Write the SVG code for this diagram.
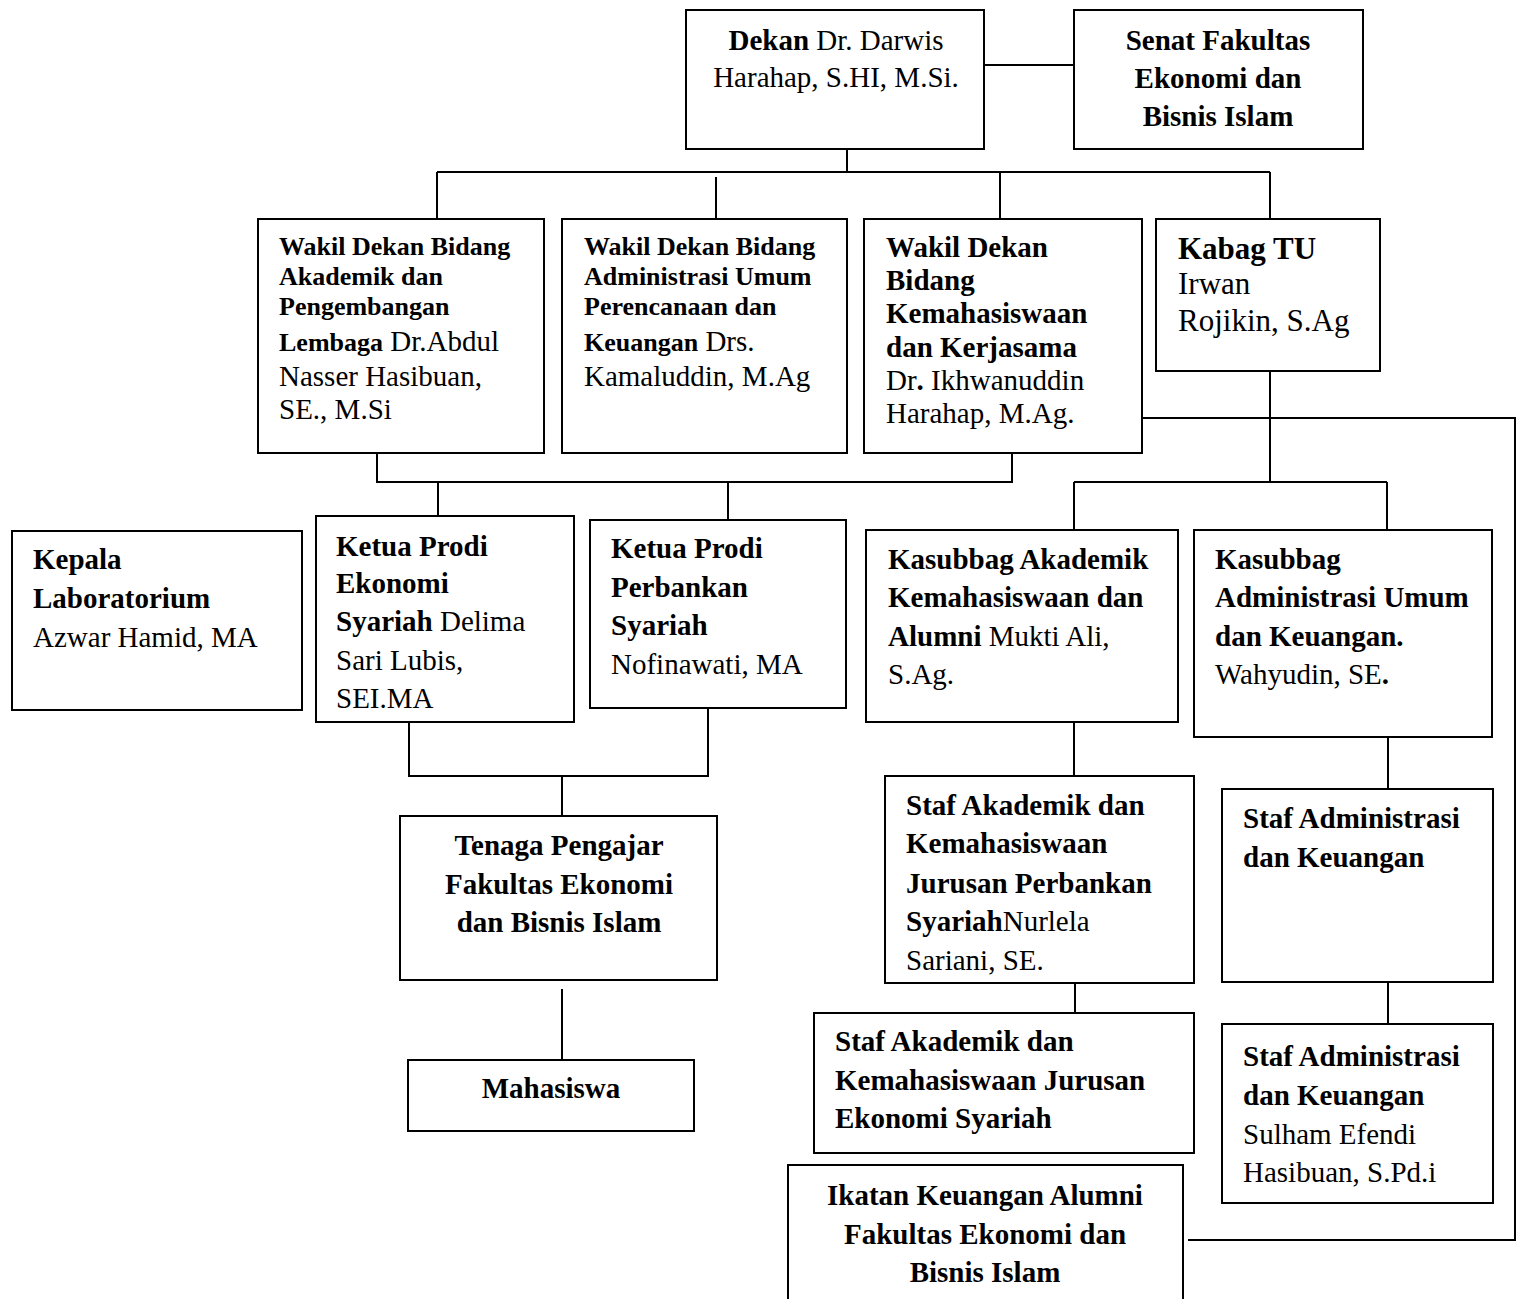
<svg xmlns="http://www.w3.org/2000/svg" width="1524" height="1299" viewBox="0 0 1524 1299">
<style>
rect.n{fill:#fff;stroke:#000;stroke-width:2}
#connectors line,#connectors polyline{stroke:#000;stroke-width:2;fill:none}
text{font-family:"Liberation Serif","Times New Roman",serif;font-size:29px;fill:#000}
.b{font-weight:bold}
.s{font-size:26px}
.c{text-anchor:middle}
.k{font-size:31px}
</style>
<rect width="1524" height="1299" fill="#fff"/>
<g id="connectors">
<line x1="984" y1="65" x2="1074" y2="65"/>
<line x1="847" y1="149" x2="847" y2="172"/>
<line x1="437" y1="172" x2="1270" y2="172"/>
<line x1="437" y1="172" x2="437" y2="219"/>
<line x1="716" y1="177" x2="716" y2="219"/>
<line x1="1000" y1="172" x2="1000" y2="219"/>
<line x1="1270" y1="172" x2="1270" y2="219"/>
<polyline points="377,453 377,482 1012,482 1012,453"/>
<line x1="438" y1="482" x2="438" y2="516"/>
<line x1="728" y1="482" x2="728" y2="520"/>
<polyline points="409,722 409,776 708,776 708,708"/>
<line x1="562" y1="776" x2="562" y2="816"/>
<line x1="562" y1="989" x2="562" y2="1060"/>
<line x1="1270" y1="371" x2="1270" y2="482"/>
<line x1="1074" y1="482" x2="1387" y2="482"/>
<line x1="1074" y1="482" x2="1074" y2="530"/>
<line x1="1387" y1="482" x2="1387" y2="530"/>
<polyline points="1142,418 1515,418 1515,1240 1188,1240"/>
<line x1="1074" y1="722" x2="1074" y2="776"/>
<line x1="1388" y1="737" x2="1388" y2="789"/>
<line x1="1075" y1="983" x2="1075" y2="1013"/>
<line x1="1388" y1="982" x2="1388" y2="1024"/>
</g>
<g id="dekan">
<rect class="n" x="686" y="10" width="298" height="139"/>
<text class="c" x="836" y="50"><tspan class="b">Dekan</tspan> Dr. Darwis</text>
<text class="c" x="836" y="87">Harahap, S.HI, M.Si.</text>
</g>
<g id="senat">
<rect class="n" x="1074" y="10" width="289" height="139"/>
<text class="c b" x="1218" y="50">Senat Fakultas</text>
<text class="c b" x="1218" y="88">Ekonomi dan</text>
<text class="c b" x="1218" y="126">Bisnis Islam</text>
</g>
<g id="wakil-akademik">
<rect class="n" x="258" y="219" width="286" height="234"/>
<text class="b s" x="279" y="255">Wakil Dekan Bidang</text>
<text class="b s" x="279" y="285">Akademik dan</text>
<text class="b s" x="279" y="315">Pengembangan</text>
<text x="279" y="351"><tspan class="b s">Lembaga</tspan> Dr.Abdul</text>
<text x="279" y="386">Nasser Hasibuan,</text>
<text x="279" y="419">SE., M.Si</text>
</g>
<g id="wakil-administrasi">
<rect class="n" x="562" y="219" width="285" height="234"/>
<text class="b s" x="584" y="255">Wakil Dekan Bidang</text>
<text class="b s" x="584" y="285">Administrasi Umum</text>
<text class="b s" x="584" y="315">Perencanaan dan</text>
<text x="584" y="351"><tspan class="b s">Keuangan</tspan> Drs.</text>
<text x="584" y="386">Kamaluddin, M.Ag</text>
</g>
<g id="wakil-kemahasiswaan">
<rect class="n" x="864" y="219" width="278" height="234"/>
<text class="b" x="886" y="257">Wakil Dekan</text>
<text class="b" x="886" y="290">Bidang</text>
<text class="b" x="886" y="323">Kemahasiswaan</text>
<text class="b" x="886" y="357">dan Kerjasama</text>
<text x="886" y="390">Dr<tspan class="b">.</tspan> Ikhwanuddin</text>
<text x="886" y="423">Harahap, M.Ag.</text>
</g>
<g id="kabag-tu">
<rect class="n" x="1156" y="219" width="224" height="152"/>
<text class="b k" x="1178" y="259">Kabag TU</text>
<text class="k" x="1178" y="294">Irwan</text>
<text class="k" x="1178" y="331">Rojikin, S.Ag</text>
</g>
<g id="kepala-lab">
<rect class="n" x="12" y="531" width="290" height="179"/>
<text class="b" x="33" y="569">Kepala</text>
<text class="b" x="33" y="608">Laboratorium</text>
<text x="33" y="647">Azwar Hamid, MA</text>
</g>
<g id="ketua-ekonomi">
<rect class="n" x="316" y="516" width="258" height="206"/>
<text class="b" x="336" y="556">Ketua Prodi</text>
<text class="b" x="336" y="593">Ekonomi</text>
<text x="336" y="631"><tspan class="b">Syariah</tspan> Delima</text>
<text x="336" y="670">Sari Lubis,</text>
<text x="336" y="708">SEI.MA</text>
</g>
<g id="ketua-perbankan">
<rect class="n" x="590" y="520" width="256" height="188"/>
<text class="b" x="611" y="558">Ketua Prodi</text>
<text class="b" x="611" y="597">Perbankan</text>
<text class="b" x="611" y="635">Syariah</text>
<text x="611" y="674">Nofinawati, MA</text>
</g>
<g id="kasubbag-akademik">
<rect class="n" x="866" y="530" width="312" height="192"/>
<text class="b" x="888" y="569">Kasubbag Akademik</text>
<text class="b" x="888" y="607">Kemahasiswaan dan</text>
<text x="888" y="646"><tspan class="b">Alumni</tspan> Mukti Ali,</text>
<text x="888" y="684">S.Ag.</text>
</g>
<g id="kasubbag-administrasi">
<rect class="n" x="1194" y="530" width="298" height="207"/>
<text class="b" x="1215" y="569">Kasubbag</text>
<text class="b" x="1215" y="607">Administrasi Umum</text>
<text class="b" x="1215" y="646">dan Keuangan.</text>
<text x="1215" y="684">Wahyudin, SE<tspan class="b">.</tspan></text>
</g>
<g id="tenaga-pengajar">
<rect class="n" x="400" y="816" width="317" height="164"/>
<text class="b c" x="559" y="855">Tenaga Pengajar</text>
<text class="b c" x="559" y="894">Fakultas Ekonomi</text>
<text class="b c" x="559" y="932">dan Bisnis Islam</text>
</g>
<g id="mahasiswa">
<rect class="n" x="408" y="1060" width="286" height="71"/>
<text class="b c" x="551" y="1098">Mahasiswa</text>
</g>
<g id="staf-akademik-perbankan">
<rect class="n" x="885" y="776" width="309" height="207"/>
<text class="b" x="906" y="815">Staf Akademik dan</text>
<text class="b" x="906" y="853">Kemahasiswaan</text>
<text class="b" x="906" y="893">Jurusan Perbankan</text>
<text x="906" y="931"><tspan class="b">Syariah</tspan>Nurlela</text>
<text x="906" y="970">Sariani, SE.</text>
</g>
<g id="staf-akademik-ekonomi">
<rect class="n" x="814" y="1013" width="380" height="140"/>
<text class="b" x="835" y="1051">Staf Akademik dan</text>
<text class="b" x="835" y="1090">Kemahasiswaan Jurusan</text>
<text class="b" x="835" y="1128">Ekonomi Syariah</text>
</g>
<g id="ikatan-alumni">
<rect class="n" x="788" y="1165" width="395" height="150"/>
<text class="b c" x="985" y="1205">Ikatan Keuangan Alumni</text>
<text class="b c" x="985" y="1244">Fakultas Ekonomi dan</text>
<text class="b c" x="985" y="1282">Bisnis Islam</text>
</g>
<g id="staf-administrasi-1">
<rect class="n" x="1222" y="789" width="271" height="193"/>
<text class="b" x="1243" y="828">Staf Administrasi</text>
<text class="b" x="1243" y="867">dan Keuangan</text>
</g>
<g id="staf-administrasi-2">
<rect class="n" x="1222" y="1024" width="271" height="179"/>
<text class="b" x="1243" y="1066">Staf Administrasi</text>
<text class="b" x="1243" y="1105">dan Keuangan</text>
<text x="1243" y="1144">Sulham Efendi</text>
<text x="1243" y="1182">Hasibuan, S.Pd.i</text>
</g>
</svg>
